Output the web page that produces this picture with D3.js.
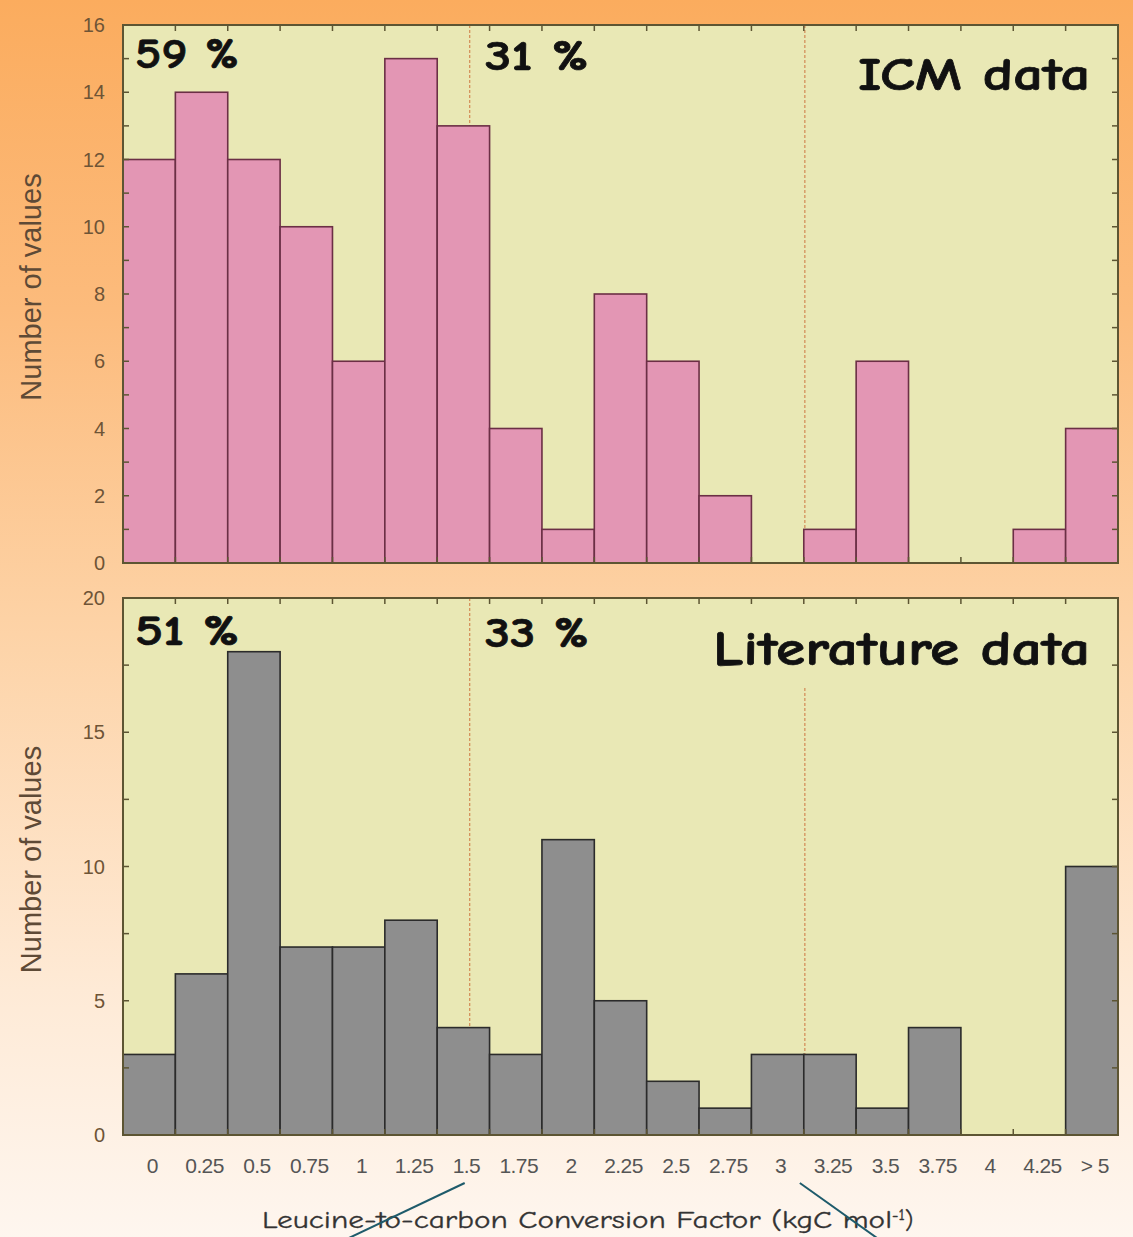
<!DOCTYPE html>
<html>
<head>
<meta charset="utf-8">
<script src="https://cdn.jsdelivr.net/npm/d3@7"></script>
<style>
  html, body { margin: 0; padding: 0; }
  svg { display: block; }
</style>
</head>
<body>
<svg id="chart" width="1133" height="1237"></svg>
<script>
// Histogram bins of the leucine-to-carbon conversion factor (kgC mol-1)
const binLabels = ["0", "0.25", "0.5", "0.75", "1", "1.25", "1.5", "1.75", "2", "2.25",
                   "2.5", "2.75", "3", "3.25", "3.5", "3.75", "4", "4.25", "> 5"];
const binCenters = binLabels.map((d, i) => i * 0.25);

// Number of values per bin
const icmCounts = [12, 14, 12, 10, 6, 15, 13, 4, 1, 8, 6, 2, 0, 1, 6, 0, 0, 1, 4];
const literatureCounts = [3, 6, 18, 7, 7, 8, 4, 3, 11, 5, 2, 1, 3, 3, 1, 4, 0, 0, 10];

// Class boundaries separating the three groups
const cutValues = [1.53, 3.13];

// Share of values in the first two groups
const icmShares = ["59 %", "31 %"];
const literatureShares = ["51 %", "33 %"];

const panelTitles = ["ICM data", "Literature data"];
const yTitle = "Number of values";

const svg = d3.select("#chart");
const W = 1133, H = 1237;

// Page background
const defs = svg.append("defs");
const bg = defs.append("linearGradient").attr("id", "bgGrad")
  .attr("x1", 0).attr("y1", 0).attr("x2", 0).attr("y2", 1);
bg.append("stop").attr("offset", 0).attr("stop-color", "#fbac5e");
bg.append("stop").attr("offset", 0.25).attr("stop-color", "#fcbb7c");
bg.append("stop").attr("offset", 0.5).attr("stop-color", "#fdd2a5");
bg.append("stop").attr("offset", 0.8).attr("stop-color", "#feead6");
bg.append("stop").attr("offset", 1).attr("stop-color", "#fef6ef");
svg.append("rect").attr("width", W).attr("height", H).attr("fill", "url(#bgGrad)");

const left = 123, right = 1118;
const halfBin = 0.125;
const x = d3.scaleLinear()
  .domain([binCenters[0] - halfBin, binCenters[binCenters.length - 1] + halfBin])
  .range([left, right]);
const binEdges = binCenters.map(c => c - halfBin).concat([binCenters[binCenters.length - 1] + halfBin]);

const panels = [
  { counts: icmCounts, top: 25, bottom: 563, yMax: 16, major: 2, minor: 1,
    fill: "#e396b4", stroke: "#6b2f45", shares: icmShares, title: panelTitles[0],
    shareY: 68, titleY: 90, titleW: 232, titleSize: 47, secondCutTop: 25 },
  { counts: literatureCounts, top: 598, bottom: 1135, yMax: 20, major: 5, minor: 2.5,
    fill: "#8e8e8e", stroke: "#2b2b2b", shares: literatureShares, title: panelTitles[1],
    shareY: 645, titleY: 665, titleW: 377, titleSize: 48, secondCutTop: 688 }
];

const frameColor = "#5d5533";
const comicFont = "'Comic Sans MS', 'Comic Neue', 'DejaVu Sans', sans-serif";
const plainFont = "'Liberation Sans', Arial, sans-serif";

panels.forEach(p => {
  const g = svg.append("g");
  const y = d3.scaleLinear().domain([0, p.yMax]).range([p.bottom, p.top]);

  // Plot area
  g.append("rect")
    .attr("x", left).attr("y", p.top)
    .attr("width", right - left).attr("height", p.bottom - p.top)
    .attr("fill", "#e9e8b5");

  // Group boundaries
  g.selectAll("line.cut").data(cutValues).join("line")
    .attr("class", "cut")
    .attr("x1", d => x(d)).attr("x2", d => x(d))
    .attr("y1", (d, i) => i === 1 ? p.secondCutTop : p.top)
    .attr("y2", p.bottom)
    .attr("stroke", "#d4915c").attr("stroke-width", 1.3)
    .attr("stroke-dasharray", "3,2");

  // Bars
  g.selectAll("rect.bar").data(p.counts.map((v, i) => ({ v, i }))).join("rect")
    .attr("class", "bar")
    .filter(d => d.v > 0)
    .attr("x", d => x(binCenters[d.i] - halfBin))
    .attr("width", d => x(binCenters[d.i] + halfBin) - x(binCenters[d.i] - halfBin))
    .attr("y", d => y(d.v))
    .attr("height", d => y(0) - y(d.v))
    .attr("fill", p.fill)
    .attr("stroke", p.stroke)
    .attr("stroke-width", 1.6);

  // Inward ticks on all four sides
  const yTicks = d3.range(0, p.yMax + 0.001, p.minor);
  const tk = 6;
  g.selectAll("line.yl").data(yTicks).join("line")
    .attr("x1", left).attr("x2", left + tk)
    .attr("y1", d => y(d)).attr("y2", d => y(d))
    .attr("stroke", frameColor).attr("stroke-width", 1.5);
  g.selectAll("line.yr").data(yTicks).join("line")
    .attr("x1", right - tk).attr("x2", right)
    .attr("y1", d => y(d)).attr("y2", d => y(d))
    .attr("stroke", frameColor).attr("stroke-width", 1.5);
  g.selectAll("line.xt").data(binEdges).join("line")
    .attr("x1", d => x(d)).attr("x2", d => x(d))
    .attr("y1", p.top).attr("y2", p.top + tk)
    .attr("stroke", frameColor).attr("stroke-width", 1.5);
  g.selectAll("line.xb").data(binEdges).join("line")
    .attr("x1", d => x(d)).attr("x2", d => x(d))
    .attr("y1", p.bottom).attr("y2", p.bottom - tk)
    .attr("stroke", frameColor).attr("stroke-width", 1.5);

  // Frame
  g.append("rect")
    .attr("x", left).attr("y", p.top)
    .attr("width", right - left).attr("height", p.bottom - p.top)
    .attr("fill", "none").attr("stroke", frameColor).attr("stroke-width", 2);

  // Y tick labels
  g.selectAll("text.ylab").data(d3.range(0, p.yMax + 0.001, p.major)).join("text")
    .attr("x", 105).attr("y", d => y(d) + 7)
    .attr("text-anchor", "end")
    .attr("font-family", plainFont)
    .attr("font-size", 20)
    .attr("fill", "#6e5436")
    .text(d => d);

  // Y axis title
  g.append("text")
    .attr("transform", `translate(41,${(p.top + p.bottom) / 2 - 7}) rotate(-90)`)
    .attr("text-anchor", "middle")
    .attr("font-family", plainFont)
    .attr("font-size", 29)
    .attr("fill", "#5e4a36")
    .text(yTitle);

  // Group shares
  g.append("text")
    .attr("x", left + 12).attr("y", p.shareY)
    .attr("font-family", comicFont).attr("font-weight", "bold")
    .attr("font-size", 43).attr("fill", "#111")
    .attr("stroke", "#111").attr("stroke-width", 0.7)
    .attr("textLength", 104).attr("lengthAdjust", "spacingAndGlyphs")
    .text(p.shares[0]);
  g.append("text")
    .attr("x", x(cutValues[0]) + 15).attr("y", p.shareY + 2)
    .attr("font-family", comicFont).attr("font-weight", "bold")
    .attr("font-size", 43).attr("fill", "#111")
    .attr("stroke", "#111").attr("stroke-width", 0.7)
    .attr("textLength", 104).attr("lengthAdjust", "spacingAndGlyphs")
    .text(p.shares[1]);

  // Panel title
  g.append("text")
    .attr("x", 1090).attr("y", p.titleY)
    .attr("text-anchor", "end")
    .attr("font-family", comicFont).attr("font-weight", "bold")
    .attr("font-size", p.titleSize).attr("fill", "#111")
    .attr("stroke", "#111").attr("stroke-width", 0.7)
    .attr("textLength", p.titleW).attr("lengthAdjust", "spacingAndGlyphs")
    .text(p.title);
});

// X tick labels (bin centres)
svg.selectAll("text.xlab").data(binLabels).join("text")
  .attr("x", (d, i) => x(binCenters[i]) + 3)
  .attr("y", 1173)
  .attr("text-anchor", "middle")
  .attr("font-family", plainFont)
  .attr("font-size", 21)
  .attr("letter-spacing", -0.6)
  .attr("fill", "#555")
  .text(d => d);

// X axis title with superscript unit exponent
const xTitle = svg.append("text")
  .attr("x", 262).attr("y", 1228)
  .attr("font-family", comicFont)
  .attr("font-size", 25)
  .attr("fill", "#333")
  .attr("stroke", "#333").attr("stroke-width", 0.3);
xTitle.append("tspan").text("Leucine-to-carbon Conversion Factor (kgC mol")
  .attr("textLength", 630).attr("lengthAdjust", "spacingAndGlyphs");
xTitle.append("tspan").text("-1").attr("font-size", 16).attr("dy", -8);
xTitle.append("tspan").text(")").attr("dy", 8);

// Pointer lines from the group boundaries
const pointerEnds = [-120, 80];
svg.selectAll("line.pointer").data(cutValues).join("line")
  .attr("x1", d => x(d) - 5).attr("y1", 1183)
  .attr("x2", (d, i) => x(d) - 5 + pointerEnds[i]).attr("y2", 1240)
  .attr("stroke", "#1e5b6b").attr("stroke-width", 2);
</script>
</body>
</html>
